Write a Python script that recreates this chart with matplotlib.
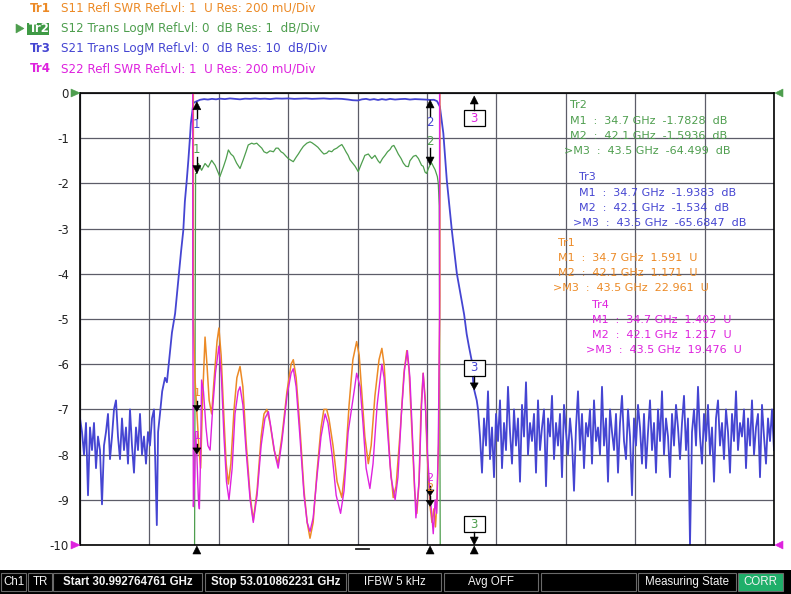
import numpy as np
import matplotlib
matplotlib.use("Agg")
import matplotlib.pyplot as plt
from matplotlib.patches import Polygon, Rectangle
from matplotlib.lines import Line2D
from matplotlib.transforms import IdentityTransform

plt.rcParams['axes.unicode_minus'] = False

# ---------------- sweep / trace settings ----------------
START_GHZ = 30.992764761
STOP_GHZ = 53.010862231

# (reference level, resolution per division, reference position in divisions)
TR1_SET = (1.0, 0.2, -10)   # S11 SWR
TR2_SET = (0.0, 1.0, 0)     # S12 LogM
TR3_SET = (0.0, 10.0, 0)    # S21 LogM
TR4_SET = (1.0, 0.2, -10)   # S22 SWR

# ---------------- Tr3 : S21 (dB) ----------------
s21_noise_left_db = [-72, -75, -80, -73, -89, -74, -79, -73, -83, -76,
                     -79, -91, -78, -75, -71, -81, -76, -70, -68, -76,
                     -81, -72, -79, -74, -82, -70, -78, -84, -74, -79,
                     -71, -80, -76, -82, -75, -78, -72, -70]
s21_noise_left_stop = 33.34

s21_band_f = [33.43, 33.47, 33.53, 33.60, 33.69, 33.75, 33.85, 33.91, 34.01, 34.11,
              34.20, 34.27, 34.32, 34.38, 34.43, 34.48, 34.51, 34.59, 34.67,
              34.74, 34.80, 34.93, 35.05, 35.18, 35.31, 35.43, 35.59, 35.75, 35.91,
              36.07, 36.23, 36.39, 36.55, 36.70, 36.86, 37.02, 37.21, 37.40, 37.60,
              37.79, 37.97, 38.16, 38.35, 38.54, 38.73, 38.92, 39.11, 39.30, 39.50,
              39.65, 39.81, 39.94, 40.07, 40.19, 40.32, 40.45, 40.57, 40.70, 40.83,
              40.99, 41.15, 41.31, 41.46, 41.62, 41.78, 41.94, 42.10, 42.22, 42.32,
              42.41, 42.52, 42.63, 42.79, 42.95, 43.10, 43.18, 43.26, 43.33, 43.42,
              43.47, 43.50, 43.58]
s21_band_db = [-95.6, -75, -71, -66, -63, -64, -57, -53, -48.8, -41.5,
               -35, -30.4, -24, -19.3, -14.9, -10, -6.7, -2.2, -1.9,
               -1.7, -1.5, -1.35, -1.45, -1.3, -1.4, -1.25, -1.35, -1.2, -1.3,
               -1.4, -1.25, -1.3, -1.2, -1.3, -1.25, -1.35, -1.2, -1.25, -1.2,
               -1.3, -1.25, -1.2, -1.3, -1.25, -1.2, -1.3, -1.25, -1.3, -1.45,
               -1.6, -1.65, -1.4, -1.3, -1.5, -1.35, -1.55, -1.35, -1.5, -1.3,
               -1.45, -1.35, -1.3, -1.45, -1.35, -1.4, -1.45, -1.53, -1.5, -1.8,
               -3.0, -8.9, -19.3, -30.4, -40, -45.9, -49, -53.3, -56, -59.2,
               -64.3, -65.7, -68]

s21_noise_right_start = 43.62
s21_noise_right_db = [-70, -76, -84, -72, -78, -66, -81, -74, -85, -71,
                      -77, -68, -83, -73, -79, -65, -75, -82, -70, -78,
                      -72, -86, -69, -76, -64, -80, -73, -77, -71, -84,
                      -68, -79, -74, -70, -87, -72, -76, -67, -81, -73,
                      -78, -71, -85, -69, -75, -80, -72, -77, -88, -74,
                      -66, -79, -71, -83, -73, -76, -70, -82, -68, -77,
                      -74, -80, -65, -78, -72, -86, -70, -75, -79, -71,
                      -84, -73, -67, -77, -81, -70, -76, -89, -72, -78,
                      -69, -74, -82, -71, -83, -75, -68, -79, -73, -84,
                      -70, -77, -66, -80, -72, -76, -85, -71, -78, -69,
                      -74, -81, -73, -67, -79, -72, -100, -75, -70, -78,
                      -65, -76, -82, -71, -77, -69, -80, -74, -86, -72,
                      -68, -78, -73, -81, -70, -75, -84, -71, -77, -66,
                      -79, -73, -76, -70, -83, -72, -78, -68, -80, -74,
                      -71, -85, -69, -76, -82, -72, -77, -70, -79]

# ---------------- Tr2 : S12 (dB) ----------------
s12_f = [START_GHZ, 34.58, 34.62, 34.66, 34.70, 34.75, 34.85, 34.96, 35.06, 35.17,
         35.28, 35.37, 35.43, 35.54, 35.63, 35.70, 35.78, 35.86, 35.96, 36.07,
         36.17, 36.26, 36.33, 36.44, 36.51, 36.60, 36.67, 36.76, 36.83, 36.92,
         37.02, 37.13, 37.21, 37.28, 37.37, 37.44, 37.53, 37.60, 37.69, 37.76,
         37.85, 37.92, 38.00, 38.08, 38.19, 38.29, 38.35, 38.45, 38.54, 38.66,
         38.73, 38.82, 38.89, 38.98, 39.05, 39.14, 39.21, 39.30, 39.37, 39.43,
         39.50, 39.56, 39.64, 39.72, 39.82, 39.93, 39.99, 40.03, 40.14, 40.25,
         40.35, 40.45, 40.51, 40.59, 40.67, 40.75, 40.83, 40.89, 40.95, 41.02,
         41.09, 41.18, 41.25, 41.33, 41.41, 41.46, 41.57, 41.65, 41.73, 41.83,
         41.88, 41.94, 41.99, 42.04, 42.10, 42.15, 42.20, 42.26, 42.33, 42.36,
         42.39, 42.43, 42.46, STOP_GHZ]
s12_db = [-60, -60, -12, -1.78, -1.78, -1.56, -1.71, -1.56, -1.64, -1.49,
          -1.60, -1.75, -1.85, -1.64, -1.45, -1.26, -1.35, -1.40, -1.55, -1.67,
          -1.48, -1.30, -1.15, -1.11, -1.13, -1.11, -1.16, -1.22, -1.30, -1.33,
          -1.28, -1.30, -1.22, -1.22, -1.30, -1.33, -1.40, -1.45, -1.49, -1.52,
          -1.42, -1.35, -1.26, -1.18, -1.11, -1.08, -1.10, -1.15, -1.20, -1.30,
          -1.35, -1.33, -1.28, -1.30, -1.25, -1.22, -1.18, -1.14, -1.22, -1.30,
          -1.38, -1.48, -1.55, -1.62, -1.74, -1.55, -1.45, -1.38, -1.35, -1.45,
          -1.38, -1.50, -1.55, -1.45, -1.38, -1.30, -1.25, -1.18, -1.16, -1.25,
          -1.35, -1.45, -1.55, -1.62, -1.63, -1.50, -1.40, -1.38, -1.45, -1.60,
          -1.62, -1.75, -1.78, -1.68, -1.59, -1.55, -1.62, -1.70, -1.85, -2.0,
          -2.5, -12, -60, -60]

# ---------------- Tr1 : S11 (SWR) ----------------
s11_f = [START_GHZ, 34.55, 34.59, 34.64, 34.70, 34.77, 34.82, 34.88, 34.96, 35.02,
         35.09, 35.17, 35.24, 35.34, 35.40, 35.47, 35.56, 35.63, 35.70, 35.78,
         35.88, 35.97, 36.07, 36.16, 36.26, 36.39, 36.49, 36.61, 36.74, 36.83,
         36.92, 37.02, 37.15, 37.28, 37.40, 37.56, 37.69, 37.76, 37.85, 37.97,
         38.10, 38.20, 38.29, 38.39, 38.51, 38.64, 38.73, 38.82, 38.89, 39.02,
         39.15, 39.30, 39.40, 39.53, 39.65, 39.77, 39.85, 39.94, 40.03, 40.14,
         40.23, 40.35, 40.48, 40.57, 40.64, 40.73, 40.83, 40.93, 41.02, 41.15,
         41.27, 41.36, 41.43, 41.53, 41.61, 41.68, 41.75, 41.81, 41.88, 41.95,
         42.00, 42.10, 42.16, 42.22, 42.27, 42.32, 42.37, 42.41, 42.45, STOP_GHZ]
s11_swr = [20, 20, 2.00, 1.74, 1.59, 1.42, 1.34, 1.64, 1.92, 1.80,
           1.64, 1.58, 1.72, 1.90, 1.96, 1.84, 1.56, 1.36, 1.27, 1.36,
           1.60, 1.74, 1.79, 1.70, 1.46, 1.22, 1.11, 1.24, 1.48, 1.58,
           1.60, 1.54, 1.42, 1.36, 1.48, 1.68, 1.80, 1.82, 1.74, 1.52,
           1.24, 1.10, 1.03, 1.10, 1.32, 1.52, 1.60, 1.60, 1.56, 1.44,
           1.28, 1.21, 1.34, 1.62, 1.82, 1.90, 1.84, 1.66, 1.48, 1.36,
           1.44, 1.66, 1.82, 1.87, 1.80, 1.60, 1.36, 1.21, 1.26, 1.50,
           1.76, 1.86, 1.78, 1.48, 1.24, 1.14, 1.28, 1.60, 1.76, 1.64,
           1.42, 1.17, 1.10, 1.16, 1.08, 1.20, 1.44, 2.10, 20, 20]

# ---------------- Tr4 : S22 (SWR) ----------------
s22_f = [START_GHZ, 34.55, 34.57, 34.59, 34.63, 34.66, 34.70, 34.75, 34.78, 34.82,
         34.85, 34.91, 34.99, 35.05, 35.12, 35.20, 35.29, 35.40, 35.48, 35.56,
         35.64, 35.72, 35.82, 35.91, 36.01, 36.07, 36.16, 36.26, 36.39, 36.49,
         36.61, 36.74, 36.86, 36.97, 37.05, 37.18, 37.28, 37.40, 37.56, 37.69,
         37.76, 37.85, 37.97, 38.10, 38.20, 38.29, 38.39, 38.51, 38.64, 38.77,
         38.86, 38.99, 39.12, 39.26, 39.37, 39.50, 39.69, 39.77, 39.88, 39.97,
         40.07, 40.19, 40.29, 40.42, 40.57, 40.64, 40.73, 40.86, 40.99, 41.08,
         41.19, 41.29, 41.38, 41.46, 41.56, 41.65, 41.75, 41.83, 41.88, 41.95,
         42.02, 42.10, 42.15, 42.20, 42.26, 42.31, 42.36, 42.40, 42.43, STOP_GHZ]
s22_swr = [20, 20, 2.18, 1.17, 1.30, 1.50, 1.40, 1.20, 1.16, 1.40,
           1.73, 1.68, 1.52, 1.44, 1.42, 1.60, 1.76, 1.88, 1.74, 1.48,
           1.28, 1.20, 1.34, 1.58, 1.68, 1.70, 1.62, 1.42, 1.20, 1.10,
           1.22, 1.44, 1.56, 1.59, 1.52, 1.40, 1.34, 1.46, 1.66, 1.76,
           1.78, 1.70, 1.48, 1.22, 1.10, 1.06, 1.12, 1.30, 1.48, 1.58,
           1.54, 1.40, 1.22, 1.14, 1.24, 1.50, 1.68, 1.76, 1.70, 1.54,
           1.34, 1.25, 1.36, 1.62, 1.80, 1.74, 1.54, 1.30, 1.20, 1.30,
           1.58, 1.78, 1.86, 1.74, 1.42, 1.12, 1.28, 1.62, 1.76, 1.62,
           1.40, 1.22, 1.14, 1.05, 1.20, 1.14, 1.45, 2.00, 20, 20]

# ---------------- markers ----------------
mk_freq = [34.7, 42.1, 43.5]
tr1_mk = [1.591, 1.171, 22.961]
tr2_mk = [-1.7828, -1.5936, -64.499]
tr3_mk = [-1.9383, -1.534, -65.6847]
tr4_mk = [1.403, 1.217, 19.476]

y_ticks = list(range(-10, 1))

# ---------------- style ----------------
C_TR1 = '#EC8A26'
C_TR2 = '#4E9E4E'
C_TR3 = '#4545D2'
C_TR4 = '#DE22DE'
FONT = 'DejaVu Sans'
BAR_FONT = 'Liberation Sans'


def to_div(v, setting):
    ref, res, pos = setting
    return pos + (np.asarray(v, dtype=float) - ref) / res


W, H = 791, 594
fig = plt.figure(figsize=(W / 100, H / 100), dpi=100)
fig.patch.set_facecolor('white')
ax = fig.add_axes([80 / W, 1 - 545 / H, 694 / W, 452 / H])
ax.set_xlim(START_GHZ, STOP_GHZ)
ax.set_ylim(-10, 0)
ax.set_xticks(np.linspace(START_GHZ, STOP_GHZ, 11))
ax.set_xticklabels([])
ax.set_yticks(y_ticks)
ax.set_yticklabels([str(v) for v in y_ticks], fontsize=8.5, color='#222222', family=FONT)
ax.tick_params(axis='both', length=0)
ax.tick_params(axis='y', pad=8)
ax.grid(True, color='#5c5c68', lw=0.9, zorder=1)
ax.set_axisbelow(True)
for s in ax.spines.values():
    s.set_color('black')
    s.set_linewidth(1.2)
    s.set_zorder(10)

# traces
s21_f_all = np.concatenate([np.linspace(START_GHZ, s21_noise_left_stop, len(s21_noise_left_db)),
                            s21_band_f,
                            np.linspace(s21_noise_right_start, STOP_GHZ, len(s21_noise_right_db))])
s21_db_all = np.concatenate([s21_noise_left_db, s21_band_db, s21_noise_right_db])
ax.plot(s21_f_all, to_div(s21_db_all, TR3_SET), color=C_TR3, lw=1.3, zorder=3)
ax.plot(s12_f, to_div(s12_db, TR2_SET), color=C_TR2, lw=0.9, zorder=4)
ax.plot(s11_f, to_div(s11_swr, TR1_SET), color=C_TR1, lw=1.1, zorder=5)
ax.plot(s22_f, to_div(s22_swr, TR4_SET), color=C_TR4, lw=1.0, zorder=6)

# ---------------- pixel-space helpers ----------------
fig.canvas.draw()
IDT = IdentityTransform()
Y_TOP = H - 93
Y_BOT = H - 545


def P(pts, color='black', z=30):
    fig.add_artist(Polygon(pts, closed=True, transform=IDT, facecolor=color,
                           edgecolor=color, lw=0.4, zorder=z))


def L(xs, ys, color='black', lw=1.0, z=30):
    fig.add_artist(Line2D(xs, ys, transform=IDT, color=color, lw=lw, zorder=z))


def T(x, y, s, color, size=8.5, ha='center', **kw):
    fig.text(x / W, y / H, s, color=color, fontsize=size, ha=ha, va='center',
             family=FONT, zorder=31, **kw)


def box3(X, Yc, color):
    fig.add_artist(Rectangle((X - 10.5, Yc - 8), 21, 16, transform=IDT,
                             facecolor='white', edgecolor='black', lw=0.9, zorder=29))
    T(X, Yc, '3', color, size=8.5)


def px(f, div):
    return ax.transData.transform((f, div))


# Tr3 markers (up arrows, label below)
for i, lab in enumerate(['1', '2']):
    X, Y = px(mk_freq[i], to_div(tr3_mk[i], TR3_SET))
    P([(X - 4, Y - 8), (X + 4, Y - 8), (X, Y)])
    L([X, X], [Y - 8, Y - 16])
    T(X, Y - 23, lab, C_TR3)
# Tr2 markers (down arrows, label above)
for i, lab in enumerate(['1', '2']):
    X, Y = px(mk_freq[i], to_div(tr2_mk[i], TR2_SET))
    P([(X - 4, Y + 8), (X + 4, Y + 8), (X, Y)])
    L([X, X], [Y + 8, Y + 17])
    T(X, Y + 24, lab, C_TR2)
# SWR markers (small down triangles)
for vals, setting, col in [(tr1_mk, TR1_SET, C_TR1), (tr4_mk, TR4_SET, C_TR4)]:
    for i, lab in enumerate(['1', '2']):
        X, Y = px(mk_freq[i], to_div(vals[i], setting))
        P([(X - 4, Y + 6), (X + 4, Y + 6), (X, Y)])
        L([X, X], [Y + 6, Y + 10])
        T(X, Y + 18, lab, col, size=8)
# Tr3 M3 (on screen)
X, Y = px(mk_freq[2], to_div(tr3_mk[2], TR3_SET))
P([(X - 4, Y + 7), (X + 4, Y + 7), (X, Y)])
L([X, X], [Y + 7, Y + 14])
box3(X, Y + 22, C_TR3)
# Tr1/Tr4 M3 (above screen)
X, _ = px(mk_freq[2], 0)
P([(X - 4, Y_TOP - 11), (X + 4, Y_TOP - 11), (X, Y_TOP - 3)])
L([X, X], [Y_TOP - 11, Y_TOP - 17])
box3(X, Y_TOP - 25, C_TR4)
# Tr2 M3 (below screen)
P([(X - 4, Y_BOT + 8), (X + 4, Y_BOT + 8), (X, Y_BOT)])
L([X, X], [Y_BOT + 8, Y_BOT + 13])
box3(X, Y_BOT + 21, C_TR2)
# marker positions on the frequency axis
for f in mk_freq:
    X, _ = px(f, -10)
    P([(X - 4, Y_BOT - 9), (X + 4, Y_BOT - 9), (X, Y_BOT - 1)])
L([356, 369], [H - 548.5, H - 548.5], color='#222222', lw=1.3)

# reference level triangles
P([(71, H - 89), (71, H - 97), (80, H - 93)], color=C_TR2)
P([(71, H - 541), (71, H - 549), (80, H - 545)], color=C_TR4)
P([(783, H - 89), (783, H - 97), (775, H - 93)], color=C_TR2)
P([(783, H - 541), (783, H - 549), (775, H - 545)], color=C_TR4)

# ---------------- header ----------------
hdr = [(8, 'Tr1', 'S11 Refl SWR RefLvl: 1  U Res: 200 mU/Div', C_TR1),
       (28.5, 'Tr2', 'S12 Trans LogM RefLvl: 0  dB Res: 1  dB/Div', C_TR2),
       (48.5, 'Tr3', 'S21 Trans LogM RefLvl: 0  dB Res: 10  dB/Div', C_TR3),
       (68.5, 'Tr4', 'S22 Refl SWR RefLvl: 1  U Res: 200 mU/Div', C_TR4)]
for yy, tr, txt, col in hdr:
    if tr == 'Tr2':
        fig.add_artist(Rectangle((27, H - 34.5), 22, 12, transform=IDT,
                                 facecolor='#3F9A45', edgecolor='none', zorder=28))
        T(28.5, H - yy, tr, 'white', size=8.5, ha='left', weight='bold')
        P([(16, H - yy + 4.5), (16, H - yy - 4.5), (24, H - yy)], color=C_TR2)
    else:
        T(29.5, H - yy, tr, col, size=8.5, ha='left', weight='bold')
    T(61, H - yy, txt, col, size=8.6, ha='left')

# ---------------- marker readouts ----------------
readouts = [
    (C_TR2, 570, 105, 'Tr2'), (C_TR2, 570, 121, 'M1  :  34.7 GHz  -1.7828  dB'),
    (C_TR2, 570, 136, 'M2  :  42.1 GHz  -1.5936  dB'), (C_TR2, 564, 151, '>M3  :  43.5 GHz  -64.499  dB'),
    (C_TR3, 579, 177, 'Tr3'), (C_TR3, 579, 193, 'M1  :  34.7 GHz  -1.9383  dB'),
    (C_TR3, 579, 208, 'M2  :  42.1 GHz  -1.534  dB'), (C_TR3, 573, 223, '>M3  :  43.5 GHz  -65.6847  dB'),
    (C_TR1, 558, 243, 'Tr1'), (C_TR1, 558, 258, 'M1  :  34.7 GHz  1.591  U'),
    (C_TR1, 558, 273, 'M2  :  42.1 GHz  1.171  U'), (C_TR1, 553, 288, '>M3  :  43.5 GHz  22.961  U'),
    (C_TR4, 592, 305, 'Tr4'), (C_TR4, 592, 320, 'M1  :  34.7 GHz  1.403  U'),
    (C_TR4, 592, 335, 'M2  :  42.1 GHz  1.217  U'), (C_TR4, 586, 350, '>M3  :  43.5 GHz  19.476  U'),
]
for col, x0, y0, s in readouts:
    T(x0, H - y0, s, col, size=8.0, ha='left')

# ---------------- status bar ----------------
fig.add_artist(Rectangle((0, 0), W, 24, transform=IDT, facecolor='black',
                         edgecolor='none', zorder=20))
cells = [(1, 26, 'Ch1', False, 'black'), (28, 52, 'TR', False, 'black'),
         (53, 202, 'Start 30.992764761 GHz', True, 'black'),
         (205, 346, 'Stop 53.010862231 GHz', True, 'black'),
         (348, 441, 'IFBW 5 kHz', False, 'black'), (444, 538, 'Avg OFF', False, 'black'),
         (541, 636, '', False, 'black'), (638, 736, 'Measuring State', False, 'black'),
         (738, 783, 'CORR', False, '#1FAF6A')]
for x0, x1, txt, bold, fc in cells:
    fig.add_artist(Rectangle((x0, 3), x1 - x0, 18, transform=IDT, facecolor=fc,
                             edgecolor='#6a6a6a', lw=0.8, zorder=21))
    if txt:
        fig.text((x0 + x1) / 2 / W, 12 / H, txt, color='#f4f4f4', fontsize=8.3,
                 ha='center', va='center', family=BAR_FONT,
                 weight='bold' if bold else 'normal', zorder=22)

fig.savefig('out.png', dpi=100, facecolor='white')
